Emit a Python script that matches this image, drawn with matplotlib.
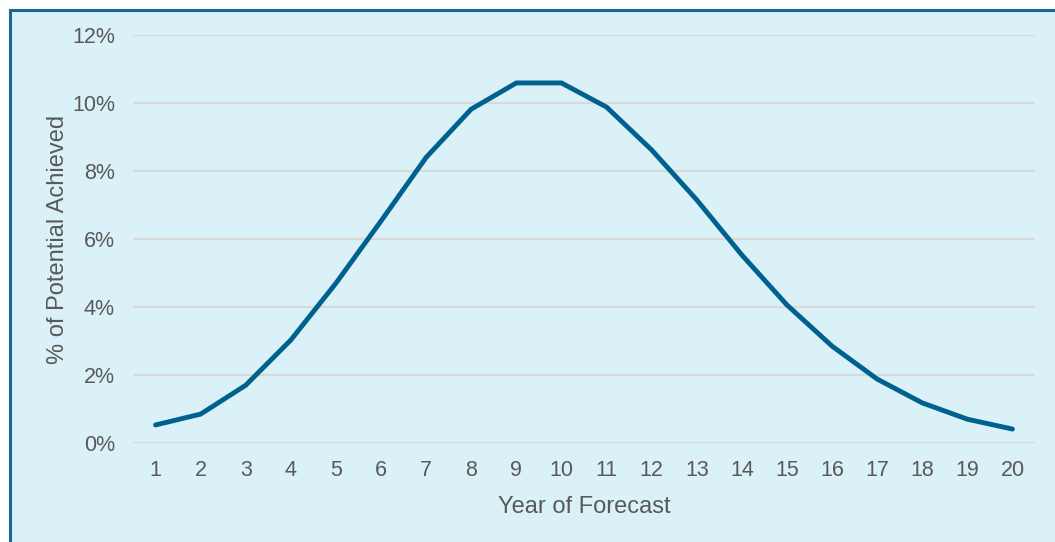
import matplotlib.pyplot as plt
from matplotlib.patches import Rectangle
from matplotlib.lines import Line2D

plt.rcParams['font.family'] = ['Liberation Sans', 'DejaVu Sans']

years = list(range(1, 21))
pct = [0.53, 0.85, 1.70, 3.03, 4.70, 6.53, 8.40, 9.82, 10.59, 10.59,
       9.88, 8.62, 7.15, 5.53, 4.06, 2.85, 1.88, 1.18, 0.70, 0.41]
yticks = [0, 2, 4, 6, 8, 10, 12]

W, H = 1055, 542
fig = plt.figure(figsize=(W / 100, H / 100), dpi=100)
fig.patch.set_facecolor('white')

# light blue panel with dark border on left/top
bg = '#DAF1F8'
border = '#1F6496'
fig.patches.append(Rectangle((10 / W, 0), 1, 1 - 10 / H, transform=fig.transFigure,
                             facecolor=bg, edgecolor='none', zorder=-10))
fig.lines.append(Line2D([9.5 / W, 9.5 / W], [0, 1 - 9.5 / H], transform=fig.transFigure,
                        color=border, lw=2.2, zorder=-5))
fig.lines.append(Line2D([9.5 / W, 1], [1 - 9.5 / H, 1 - 9.5 / H], transform=fig.transFigure,
                        color=border, lw=2.2, zorder=-5))

ax = fig.add_axes([133 / W, (H - 443) / H, (1035 - 133) / W, (443 - 35) / H])
ax.set_facecolor('none')

ax.plot(years, pct, color='#00618F', lw=3.5, solid_capstyle='round',
        solid_joinstyle='miter', zorder=3)

ax.set_xlim(0.5, 20.5)
ax.set_ylim(0, 12)
ax.set_xticks(years)
ax.set_yticks(yticks)
ax.set_yticklabels([f'{v}%' for v in yticks])
ax.grid(axis='y', color='#D9D9D9', lw=1.5)
ax.set_axisbelow(True)
for s in ax.spines.values():
    s.set_visible(False)
ax.tick_params(length=0, colors='#595959', labelsize=15.5)
ax.tick_params(axis='x', pad=12)
ax.tick_params(axis='y', pad=13)

ax.set_xlabel('Year of Forecast', fontsize=17, color='#595959', labelpad=11)
ax.set_ylabel('% of Potential Achieved', fontsize=17, color='#595959', labelpad=2)

fig.savefig('out.png', dpi=100)
